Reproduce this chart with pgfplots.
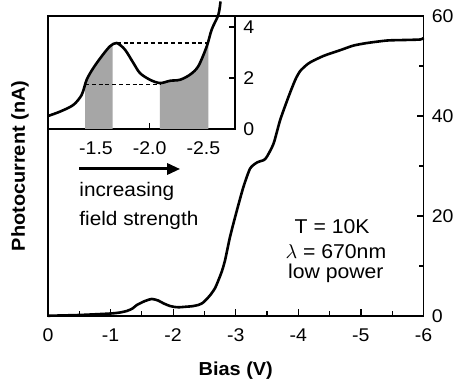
\documentclass[border=0pt]{standalone}
\usepackage{pgfplots}
\pgfplotsset{compat=1.18}
\usepackage{fontspec}
\setmainfont{Liberation Sans}[FakeStretch=1.06]
\usetikzlibrary{arrows.meta}
\begin{document}
\begin{tikzpicture}
\path[use as bounding box] (-24pt,-34pt) rectangle (203pt,158pt);
\begin{axis}[
  at={(0,0)}, anchor=south west,
  scale only axis, width=187.75pt, height=150pt,
  x dir=reverse, xmin=-6, xmax=0, ymin=0, ymax=60,
  axis line style={line width=0.75pt},
  every tick/.style={line width=0.6pt, black},
  tick align=inside,
  major tick length=3.4pt, minor tick length=2.3pt,
  xtick pos=lower, ytick pos=upper, yticklabel pos=upper,
  xtick={0,-1,-2,-3,-4,-5,-6},
  xticklabels={0,-1,-2,-3,-4,-5,-6},
  minor xtick={-0.5,-1.5,-2.5,-3.5,-4.5,-5.5},
  ytick={0,20,40,60}, minor ytick={10,30,50},
  /pgf/number format/assume math mode=true,
  tick label style={font=\fontsize{9.2}{10}\selectfont},
  xticklabel style={yshift=-2.8pt},
  yticklabel style={xshift=0.6pt},
  clip=false,
]
\addplot[line width=1.3pt, smooth, tension=0.4] coordinates {
(0,0.05) (-0.5,0.2) (-1,0.5) (-1.15,0.7) (-1.26,1.0) (-1.35,1.5) (-1.42,2.2) (-1.55,3.0) (-1.66,3.4) (-1.76,3.1) (-1.85,2.5) (-1.95,2.0) (-2.03,1.8) (-2.1,1.75) (-2.2,1.85) (-2.3,1.95) (-2.4,2.2) (-2.47,2.6) (-2.53,3.3) (-2.6,4.3) (-2.67,5.6) (-2.725,7.2) (-2.78,9.0) (-2.83,11.2) (-2.91,15.9) (-3.02,21.2) (-3.125,25.9) (-3.23,29.5) (-3.34,30.7) (-3.45,31.2) (-3.50,31.9) (-3.605,34.5) (-3.71,39.2) (-3.845,43.9) (-3.95,47.2) (-4.03,49.0) (-4.15,50.4) (-4.245,51.1) (-4.4,52.0) (-4.51,52.5) (-4.7,53.3) (-4.885,54.1) (-5.1,54.6) (-5.42,55.1) (-5.7,55.2) (-5.95,55.3) (-6,55.6)
};
\draw[-{Triangle[length=6.5pt,width=5.5pt]}, line width=1.5pt] (axis cs:-0.496,29.4) -- (axis cs:-2.112,29.4);
\node[anchor=base west, inner sep=0, font=\fontsize{9.8}{11}\selectfont] at (axis cs:-0.496,23.8) {increasing};
\node[anchor=base west, inner sep=0, font=\fontsize{9.8}{11}\selectfont] at (axis cs:-0.496,18.06) {field strength};
\node[anchor=base, inner sep=0, font=\fontsize{10}{11}\selectfont] at (axis cs:-4.54,16.5) {T = 10K};
\node[anchor=base, inner sep=0, font=\fontsize{10}{11}\selectfont] at (axis cs:-4.6,11.5) {$\lambda$ = 670nm};
\node[anchor=base, inner sep=0, font=\fontsize{10}{11}\selectfont] at (axis cs:-4.6,7.4) {low power};
\node[anchor=base, inner sep=0, font=\bfseries\fontsize{9.4}{10}\selectfont] at (axis cs:-3.0,-11.8) {Bias (V)};
\node[rotate=90, anchor=south, inner sep=0, font=\bfseries\fontsize{9.4}{10}\selectfont] at (axis cs:0.30,30) {Photocurrent (nA)};
\end{axis}
\begin{axis}[
  at={(0,93.5pt)}, anchor=south west,
  scale only axis, width=93.5pt, height=56.5pt,
  axis background/.style={fill=white},
  x dir=reverse, xmin=-2.795, xmax=-1.053, ymin=0, ymax=4.43,
  axis line style={line width=0.75pt},
  every tick/.style={line width=0.6pt, black},
  tick align=inside,
  major tick length=3.2pt,
  xtick pos=lower, ytick pos=upper, yticklabel pos=upper,
  xtick={-1.5,-2.0,-2.5}, xticklabels={-1.5,-2.0,-2.5},
  ytick={0,2,4},
  /pgf/number format/assume math mode=true,
  tick label style={font=\fontsize{9.2}{10}\selectfont},
  xticklabel style={yshift=-2.8pt},
  yticklabel style={xshift=0.6pt},
  clip=false,
]
\addplot[draw=none, fill=black!35] coordinates {
(-1.398,0) (-1.398,1.73) (-1.413,1.93) (-1.475,2.39) (-1.553,2.85) (-1.630,3.24) (-1.656,3.30) (-1.656,0)} -- cycle;
\addplot[draw=none, fill=black!35] coordinates {
(-2.096,0) (-2.096,1.80) (-2.190,1.89) (-2.283,1.93) (-2.376,2.13) (-2.453,2.46) (-2.532,3.24) (-2.547,3.35) (-2.547,0)} -- cycle;
\draw[dash pattern=on 2pt off 1.4pt, line width=0.8pt] (axis cs:-1.693,3.36) -- (axis cs:-2.547,3.36);
\draw[dash pattern=on 2pt off 1.4pt, line width=0.8pt] (axis cs:-1.398,1.74) -- (axis cs:-2.096,1.74);
\addplot[line width=1.3pt, smooth, tension=0.5] coordinates {
(-1.053,0.51) (-1.164,0.68) (-1.288,0.94) (-1.367,1.34) (-1.413,1.93) (-1.475,2.39) (-1.553,2.85) (-1.630,3.24) (-1.693,3.37) (-1.770,3.11) (-1.848,2.59) (-1.910,2.19) (-2.003,1.93) (-2.096,1.80) (-2.190,1.89) (-2.283,1.93) (-2.376,2.13) (-2.453,2.46) (-2.532,3.24) (-2.578,3.90) (-2.640,4.48) (-2.66,5.0)
};
\end{axis}
\end{tikzpicture}
\end{document}
